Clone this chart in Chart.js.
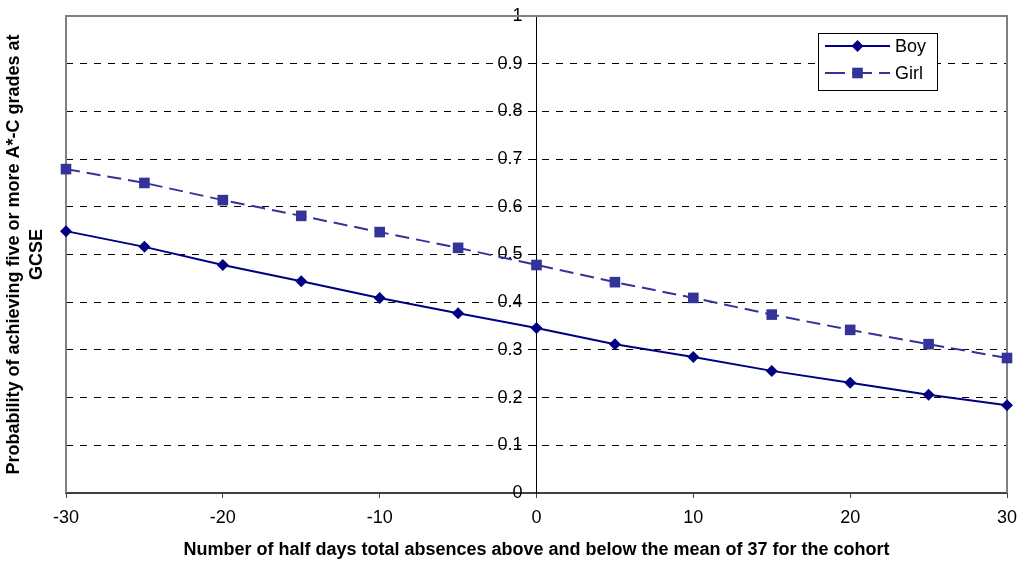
<!DOCTYPE html>
<html>
<head>
<meta charset="utf-8">
<script src="https://cdn.jsdelivr.net/npm/chart.js@4/dist/chart.umd.min.js"></script>
<style>
    html, body { margin: 0; padding: 0; background: #fff; }
    #wrap { width: 1021px; height: 563px; position: relative; }
</style>
</head>
<body>
<div id="wrap"><canvas id="chart"></canvas></div>
<script>
// absences relative to cohort mean (half days)
const absences = [-30, -25, -20, -15, -10, -5, 0, 5, 10, 15, 20, 25, 30];
const boyValues = [0.549, 0.516, 0.478, 0.444, 0.409, 0.377, 0.346, 0.312, 0.285, 0.256, 0.231, 0.206, 0.184];
const girlValues = [0.679, 0.650, 0.614, 0.581, 0.547, 0.514, 0.478, 0.442, 0.409, 0.374, 0.342, 0.312, 0.283];
const seriesNames = ['Boy', 'Girl'];
const xTitle = 'Number of half days total absences above and below the mean of 37 for the cohort';
const yTitle = ['Probability of achieving five or more A*-C grades at', 'GCSE'];

const FONT = '"Liberation Sans", Arial, sans-serif';
const BOY = '#000080';
const GIRL = '#333399';

function toPoints(values) {
    return absences.map((x, i) => ({ x: x, y: values[i] }));
}

function noPadding(s) {
    s.paddingLeft = 0;
    s.paddingRight = 0;
    s.paddingTop = 0;
    s.paddingBottom = 0;
}

// grey frame on top, right and left of the plot area
const frame = {
    id: 'frame',
    beforeDatasetsDraw(chart) {
        const a = chart.chartArea;
        const ctx = chart.ctx;
        ctx.save();
        ctx.strokeStyle = '#808080';
        ctx.lineWidth = 2;
        ctx.beginPath();
        ctx.moveTo(a.left, a.bottom);
        ctx.lineTo(a.left, a.top);
        ctx.lineTo(a.right, a.top);
        ctx.lineTo(a.right, a.bottom);
        ctx.stroke();
        ctx.restore();
    }
};

// excel style legend: line sample with marker in the middle
const boxLegend = {
    id: 'boxLegend',
    afterDraw(chart) {
        const a = chart.chartArea;
        const ctx = chart.ctx;
        const left = a.right - 189, top = a.top + 17, w = 119, h = 57;
        ctx.save();
        ctx.fillStyle = '#fff';
        ctx.fillRect(left, top, w, h);
        ctx.strokeStyle = '#000';
        ctx.lineWidth = 1;
        ctx.strokeRect(left + 0.5, top + 0.5, w, h);
        chart.data.datasets.forEach((ds, i) => {
            const y = top + 13 + i * 27;
            const x1 = left + 7, x2 = left + 72, mx = (x1 + x2) / 2;
            ctx.strokeStyle = ds.borderColor;
            ctx.lineWidth = ds.borderWidth;
            ctx.setLineDash(ds.borderDash ? [20, 7] : []);
            ctx.beginPath();
            ctx.moveTo(x1, y);
            ctx.lineTo(x2, y);
            ctx.stroke();
            ctx.setLineDash([]);
            ctx.fillStyle = ds.backgroundColor;
            ctx.beginPath();
            if (ds.pointStyle === 'rectRot') {
                const r = ds.pointRadius;
                ctx.moveTo(mx - r, y);
                ctx.lineTo(mx, y - r);
                ctx.lineTo(mx + r, y);
                ctx.lineTo(mx, y + r);
                ctx.closePath();
            } else {
                const s = ds.pointRadius * Math.SQRT1_2;
                ctx.rect(mx - s, y - s, 2 * s, 2 * s);
            }
            ctx.fill();
            ctx.fillStyle = '#000';
            ctx.font = '18px ' + FONT;
            ctx.textBaseline = 'middle';
            ctx.fillText(ds.label, x2 + 5, y + 1);
        });
        ctx.restore();
    }
};

new Chart(document.getElementById('chart'), {
    type: 'line',
    data: {
        datasets: [{
            label: seriesNames[0],
            data: toPoints(boyValues),
            borderColor: BOY,
            backgroundColor: BOY,
            borderWidth: 2,
            pointStyle: 'rectRot',
            pointRadius: 6,
            pointBorderWidth: 0,
            tension: 0,
            clip: false
        }, {
            label: seriesNames[1],
            data: toPoints(girlValues),
            borderColor: GIRL,
            backgroundColor: GIRL,
            borderWidth: 2,
            borderDash: [14, 7],
            pointStyle: 'rect',
            pointRadius: 7.5,
            pointBorderWidth: 0,
            tension: 0,
            clip: false
        }]
    },
    options: {
        responsive: true,
        maintainAspectRatio: false,
        animation: false,
        layout: { padding: { top: 16, right: 14, left: 0, bottom: 0 } },
        plugins: {
            legend: { display: false },
            tooltip: { enabled: false }
        },
        scales: {
            x: {
                type: 'linear',
                min: -30,
                max: 30,
                afterFit(s) { s.height = 70; noPadding(s); },
                ticks: {
                    stepSize: 10,
                    color: '#000',
                    padding: 9,
                    font: { family: FONT, size: 18 }
                },
                grid: { drawOnChartArea: false, drawTicks: true, tickLength: 5, color: '#404040' },
                border: { color: '#404040', width: 2 },
                title: {
                    display: true,
                    text: xTitle,
                    color: '#000',
                    padding: { top: 0, bottom: 2 },
                    font: { family: FONT, size: 18, weight: 'bold' }
                }
            },
            y: {
                type: 'linear',
                position: 'center',
                min: 0,
                max: 1,
                afterFit: noPadding,
                ticks: {
                    stepSize: 0.1,
                    color: '#000',
                    padding: 9,
                    font: { family: FONT, size: 18 },
                    callback: v => String(Math.round(v * 10) / 10)
                },
                grid: {
                    color: c => (c.tick && (c.tick.value === 0 || c.tick.value === 1)) ? 'rgba(0,0,0,0)' : '#000',
                    tickColor: '#000',
                    tickLength: 5
                },
                border: { color: '#000', width: 1, dash: [7, 7] }
            },
            yLeft: {
                type: 'linear',
                position: 'left',
                min: 0,
                max: 1,
                afterFit(s) { s.width = 66; noPadding(s); },
                ticks: { display: false },
                grid: { display: false },
                border: { display: false },
                title: {
                    display: true,
                    text: yTitle,
                    color: '#000',
                    padding: { top: 3, bottom: 0 },
                    font: { family: FONT, size: 18, weight: 'bold', lineHeight: 1.25 }
                }
            }
        }
    },
    plugins: [frame, boxLegend]
});
</script>
</body>
</html>
